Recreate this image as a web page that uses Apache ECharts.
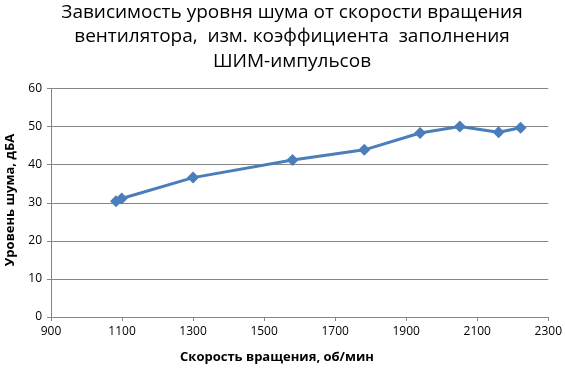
<!DOCTYPE html>
<html><head><meta charset="utf-8">
<script src="https://cdn.jsdelivr.net/npm/echarts@6/dist/echarts.min.js"></script>
<style>html,body{margin:0;padding:0;background:#fff}#c{width:565px;height:368px}</style>
</head><body><div id="c"></div>
<script>
const speeds = [1083, 1099, 1300, 1580, 1782, 1939, 2051, 2160, 2222];
const noise = [30.4, 31.1, 36.6, 41.2, 43.9, 48.3, 50.0, 48.5, 49.7];
const titleLines = ['Зависимость уровня шума от скорости вращения', 'вентилятора,  изм. коэффициента  заполнения', 'ШИМ-импульсов'];
const xName = 'Скорость вращения, об/мин';
const yName = 'Уровень шума, дБА';

const chart = echarts.init(document.getElementById('c'), null, {renderer: 'canvas'});
chart.setOption({
  animation: false,
  title: {
    text: titleLines.join('\n'),
    left: 292, top: 0, padding: 0, textAlign: 'center',
    textStyle: {fontFamily: 'Open Sans', fontSize: 19, fontWeight: 'normal', color: '#000', lineHeight: 24.5}
  },
  grid: {left: 51, right: 14, top: 88.5, bottom: 51, containLabel: false},
  xAxis: {
    type: 'value', min: 900, max: 2300, interval: 200,
    axisLine: {lineStyle: {color: '#868686', width: 1}},
    axisTick: {show: true, length: 4, lineStyle: {color: '#868686'}},
    splitLine: {show: false},
    axisLabel: {color: '#000', fontFamily: 'Open Sans', fontSize: 12, margin: 9, formatter: v => String(v)}
  },
  yAxis: {
    type: 'value', min: 0, max: 60, interval: 10,
    axisLine: {show: true, lineStyle: {color: '#868686', width: 1}},
    axisTick: {show: true, length: 4, lineStyle: {color: '#868686'}},
    splitLine: {show: true, lineStyle: {color: '#868686', width: 1}},
    axisLabel: {color: '#000', fontFamily: 'Open Sans', fontSize: 12, margin: 9}
  },
  graphic: [
    {type: 'text', x: 277, y: 357, style: {text: xName, align: 'center', verticalAlign: 'middle', font: 'bold 13px "Open Sans"', fill: '#000'}},
    {type: 'text', rotation: Math.PI/2, x: 10, y: 200, style: {text: yName, align: 'center', verticalAlign: 'middle', font: 'bold 13px "Open Sans"', fill: '#000'}}
  ],
  series: [{
    type: 'line',
    data: speeds.map((s, i) => [s, noise[i]]),
    symbol: 'diamond', symbolSize: 12,
    lineStyle: {color: '#4A7EBB', width: 3},
    itemStyle: {color: '#4A7EBB'}
  }]
});
</script></body></html>
